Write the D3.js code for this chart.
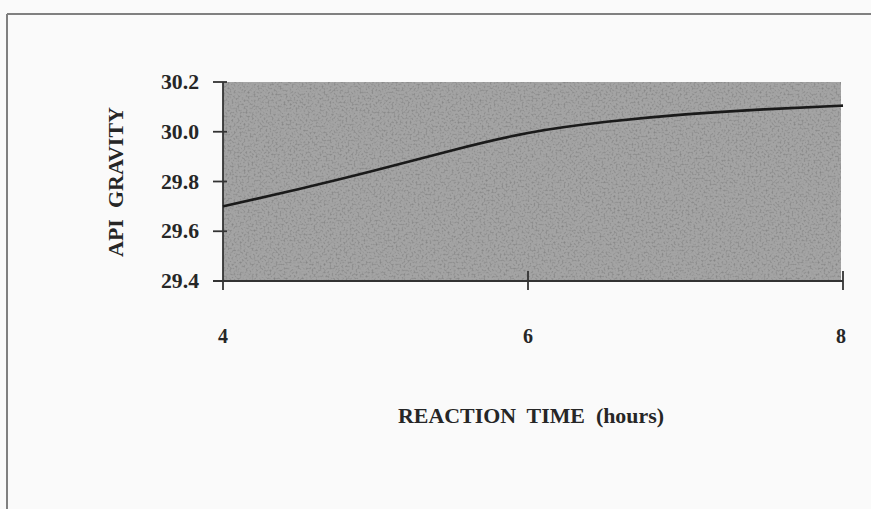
<!DOCTYPE html>
<html>
<head>
<meta charset="utf-8">
<script src="https://cdn.jsdelivr.net/npm/d3@7"></script>
<style>
  html, body { margin: 0; padding: 0; background: #fafafa; }
  svg { display: block; }
  text { font-family: "Liberation Serif", "Times New Roman", serif; font-weight: bold; fill: #262626; }
</style>
</head>
<body>
<svg id="chart" width="871" height="509"></svg>
<script>
// ---- data ----
const hours = [4, 4.5, 5, 5.5, 6, 6.5, 7, 7.5, 8];
const apiGravity = [29.70, 29.77, 29.845, 29.925, 29.995, 30.04, 30.07, 30.09, 30.105];
const xTicks = [4, 6, 8];
const yTicks = [29.4, 29.6, 29.8, 30.0, 30.2];
const xTitle = "REACTION  TIME  (hours)";
const yTitle = "API  GRAVITY";

const svg = d3.select("#chart");

// frame of the scanned page
svg.append("line").attr("x1", 7).attr("x2", 871).attr("y1", 14).attr("y2", 14)
  .attr("stroke", "#808080").attr("stroke-width", 2);
svg.append("line").attr("x1", 7).attr("x2", 7).attr("y1", 14).attr("y2", 509)
  .attr("stroke", "#808080").attr("stroke-width", 2);

// scales (scan is slightly non-uniform, so a piecewise linear x scale)
const x = d3.scaleLinear().domain([4, 6, 8]).range([223, 528, 843]);
const y = d3.scaleLinear().domain([29.4, 30.2]).range([281, 82]);

// texture filter for the gray plot area
const defs = svg.append("defs");
const f = defs.append("filter").attr("id", "grain").attr("x", 0).attr("y", 0).attr("width", 1).attr("height", 1);
f.append("feTurbulence").attr("type", "fractalNoise").attr("baseFrequency", 0.5).attr("numOctaves", 2).attr("seed", 3).attr("result", "n");
f.append("feColorMatrix").attr("in", "n").attr("type", "matrix")
  .attr("values", "0 0 0 0 0  0 0 0 0 0  0 0 0 0 0  0 0 0 -1.4 0.75");
f.append("feComposite").attr("in2", "SourceGraphic").attr("operator", "in");

const [x0, x1] = [x(4), x(8)];
const [yT, yB] = [y(30.2), y(29.4)];
svg.append("rect").attr("x", x0).attr("y", yT).attr("width", x1 - x0 - 2).attr("height", yB - yT)
  .attr("fill", "#a4a4a4");
svg.append("rect").attr("x", x0).attr("y", yT).attr("width", x1 - x0 - 2).attr("height", yB - yT)
  .attr("fill", "#000").attr("opacity", 0.35).attr("filter", "url(#grain)");

// axes
const axisColor = "#333";
const gy = svg.append("g");
gy.append("line").attr("x1", x0).attr("x2", x0).attr("y1", yT).attr("y2", yB + 9)
  .attr("stroke", axisColor).attr("stroke-width", 1.8);
gy.selectAll("line.tick").data(yTicks).join("line").attr("class", "tick")
  .attr("x1", x0 - 10).attr("x2", x0 + 4).attr("y1", d => y(d)).attr("y2", d => y(d))
  .attr("stroke", axisColor).attr("stroke-width", 1.8);
gy.selectAll("text").data(yTicks).join("text")
  .attr("x", 199).attr("y", d => y(d) + 7)
  .attr("text-anchor", "end").attr("font-size", 20)
  .attr("textLength", 38).attr("lengthAdjust", "spacingAndGlyphs")
  .text(d => d3.format(".1f")(d));

const gx = svg.append("g");
gx.append("line").attr("x1", x0 - 10).attr("x2", x1).attr("y1", yB).attr("y2", yB)
  .attr("stroke", axisColor).attr("stroke-width", 1.8);
gx.selectAll("line.tick").data(xTicks.slice(1)).join("line").attr("class", "tick")
  .attr("x1", d => x(d)).attr("x2", d => x(d)).attr("y1", yB - 10).attr("y2", yB + 9)
  .attr("stroke", axisColor).attr("stroke-width", 1.8);
gx.selectAll("text").data(xTicks).join("text")
  .attr("x", d => x(d) - (d === 8 ? 2 : 0)).attr("y", 343)
  .attr("text-anchor", "middle").attr("font-size", 20)
  .text(d => d);

// curve
const line = d3.line().x((d, i) => x(hours[i])).y(d => y(d)).curve(d3.curveNatural);
svg.append("path").datum(apiGravity).attr("d", line)
  .attr("fill", "none").attr("stroke", "#1a1a1a").attr("stroke-width", 2.6);

// titles
svg.append("text").attr("x", 531).attr("y", 423).attr("text-anchor", "middle")
  .attr("font-size", 20).attr("textLength", 266).attr("lengthAdjust", "spacingAndGlyphs")
  .style("white-space", "pre").text(xTitle);
svg.append("text").attr("transform", "translate(123,182) rotate(-90)").attr("text-anchor", "middle")
  .attr("font-size", 20).attr("textLength", 150).attr("lengthAdjust", "spacingAndGlyphs")
  .style("white-space", "pre").text(yTitle);
</script>
</body>
</html>
